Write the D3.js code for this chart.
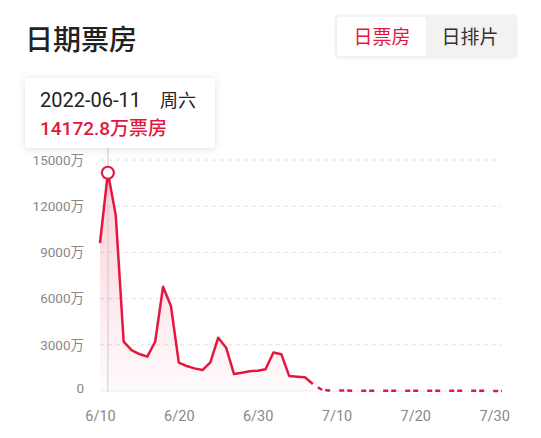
<!DOCTYPE html>
<html>
<head>
<meta charset="utf-8">
<script src="https://cdn.jsdelivr.net/npm/d3@7/dist/d3.min.js"></script>
<style>
  html, body { margin: 0; padding: 0; background: #fff; }
  svg { display: block; font-family: Roboto, "Noto Sans CJK SC", sans-serif; }
</style>
</head>
<body>
<svg id="chart" width="541" height="438"></svg>
<script>
// ---- data ----
const startDate = "2022-06-10";
const endDate = "2022-07-31";
// daily box office (万), 6/10 .. 7/7 (actual)
const actualValues = [9600, 14172.8, 11420, 3200, 2660, 2400, 2230, 3200, 6770, 5520,
  1840, 1620, 1470, 1360, 1860, 3460, 2810, 1100, 1190, 1280,
  1320, 1410, 2500, 2390, 980, 930, 890, 450];
// 7/7 .. 7/31 (presale, dashed)
const presaleValues = [450, 120, 30, 28, 26, 24, 22, 20, 19, 18, 17, 16, 15,
  14, 13, 12, 12, 11, 11, 10, 10, 9, 9, 8, 8];
const yTicks = [0, 3000, 6000, 9000, 12000, 15000];
const xTickLabels = ["6/10", "6/20", "6/30", "7/10", "7/20", "7/30"];
const xTickDates = ["2022-06-10", "2022-06-20", "2022-06-30", "2022-07-10", "2022-07-20", "2022-07-30"];
const title = "日期票房";
const tabs = ["日票房", "日排片"];
const tipDate = "2022-06-11";
const tipWeekday = "周六";
const tipIndex = 1;

// ---- setup ----
const parse = d3.timeParse("%Y-%m-%d");
const day = 864e5;
const t0 = parse(startDate);
const actual = actualValues.map((v, i) => ({ date: new Date(+t0 + i * day), v }));
const presaleStart = actual.length - 1;
const presale = presaleValues.map((v, i) => ({ date: new Date(+t0 + (presaleStart + i) * day), v }));

const red = "#e5173f";
const svg = d3.select("#chart");

const x = d3.scaleTime().domain([t0, parse(endDate)]).range([100, 502]);
const y = d3.scaleLinear().domain([0, 15000]).range([391, 160]);

const defs = svg.append("defs");
const lg = defs.append("linearGradient").attr("id", "fill").attr("x1", 0).attr("x2", 0)
  .attr("y1", 0).attr("y2", 1);
lg.append("stop").attr("offset", "0%").attr("stop-color", red).attr("stop-opacity", 0.2);
lg.append("stop").attr("offset", "100%").attr("stop-color", red).attr("stop-opacity", 0.02);
const sh = defs.append("filter").attr("id", "shadow").attr("x", "-20%").attr("y", "-30%")
  .attr("width", "140%").attr("height", "160%");
sh.append("feDropShadow").attr("dx", 0).attr("dy", 1).attr("stdDeviation", 4)
  .attr("flood-color", "#000").attr("flood-opacity", 0.12);
const sh2 = defs.append("filter").attr("id", "shadow2").attr("x", "-10%").attr("y", "-30%")
  .attr("width", "120%").attr("height", "160%");
sh2.append("feDropShadow").attr("dx", 0).attr("dy", 0.5).attr("stdDeviation", 1.2)
  .attr("flood-color", "#000").attr("flood-opacity", 0.08);

// title
svg.append("text").attr("x", 25).attr("y", 50).attr("font-size", 28)
  .attr("font-weight", 500).attr("fill", "#222").text(title);

// tabs
svg.append("rect").attr("x", 335).attr("y", 15).attr("width", 182).attr("height", 43)
  .attr("rx", 4).attr("fill", "#f2f2f2").attr("filter", "url(#shadow2)");
svg.append("rect").attr("x", 337).attr("y", 17).attr("width", 89).attr("height", 39)
  .attr("rx", 3).attr("fill", "#fff");
svg.append("text").attr("x", 382).attr("y", 44).attr("text-anchor", "middle")
  .attr("font-size", 19).attr("fill", red).text(tabs[0]);
svg.append("text").attr("x", 470).attr("y", 44).attr("text-anchor", "middle")
  .attr("font-size", 19).attr("fill", "#333").text(tabs[1]);

// grid
const grid = svg.append("g");
yTicks.forEach(t => {
  grid.append("line").attr("x1", 100).attr("x2", 502)
    .attr("y1", y(t)).attr("y2", y(t))
    .attr("stroke", t === 0 ? "#eeeeee" : "#e2e2e2")
    .attr("stroke-width", 1)
    .attr("stroke-dasharray", t === 0 ? null : "4,4");
});

// y axis labels
const yAxis = d3.axisLeft(y).tickValues(yTicks)
  .tickFormat(d => d === 0 ? "0" : d + "万").tickSize(0).tickPadding(0);
const ga = svg.append("g").attr("transform", "translate(84,0)").call(yAxis);
ga.select(".domain").remove();
ga.selectAll("text").attr("font-size", 13.5).attr("fill", "#888")
  .attr("font-family", 'Roboto, "Noto Sans CJK SC", sans-serif');
ga.selectAll(".tick").filter(d => d === 0).select("text").attr("dy", "0.1em");

// x axis labels
const xAxis = d3.axisBottom(x).tickValues(xTickDates.map(parse))
  .tickFormat((d, i) => xTickLabels[i]).tickSize(0).tickPadding(0);
const gx = svg.append("g").attr("transform", "translate(0,411)").call(xAxis);
gx.select(".domain").remove();
gx.selectAll("text").attr("font-size", 14.5).attr("fill", "#888")
  .attr("font-family", 'Roboto, "Noto Sans CJK SC", sans-serif');

// area
const area = d3.area().x(d => x(d.date)).y0(y(0)).y1(d => y(d.v));
svg.append("path").datum(actual).attr("d", area)
  .attr("fill", "url(#fill)").attr("stroke", "none");

// crosshair
const tip = actual[tipIndex];
svg.append("line").attr("x1", x(tip.date)).attr("x2", x(tip.date))
  .attr("y1", 148).attr("y2", 392).attr("stroke", "#cccccc").attr("stroke-width", 1);

// lines
const line = d3.line().x(d => x(d.date)).y(d => y(d.v));
svg.append("path").datum(actual).attr("d", line).attr("fill", "none")
  .attr("stroke", red).attr("stroke-width", 2.5).attr("stroke-linejoin", "round");
svg.append("path").datum(presale).attr("d", line).attr("fill", "none")
  .attr("stroke", red).attr("stroke-width", 2.5).attr("stroke-dasharray", "0,6,5,3,5,3");

// marker
svg.append("circle").attr("cx", x(tip.date)).attr("cy", y(tip.v)).attr("r", 6)
  .attr("fill", "#fff").attr("stroke", red).attr("stroke-width", 2.2);

// tooltip
svg.append("rect").attr("x", 25).attr("y", 78).attr("width", 190).attr("height", 70)
  .attr("rx", 4).attr("fill", "#fff").attr("filter", "url(#shadow)");
const t1 = svg.append("text").attr("x", 40).attr("y", 107).attr("fill", "#222");
t1.append("tspan").attr("font-size", 20).text(tipDate);
t1.append("tspan").attr("x", 160).attr("font-size", 18).text(tipWeekday);
svg.append("text").attr("x", 40).attr("y", 135).attr("fill", red).attr("font-size", 19)
  .attr("font-weight", 500)
  .text(d3.format(".1f")(tip.v) + "万票房");
</script>
</body>
</html>
